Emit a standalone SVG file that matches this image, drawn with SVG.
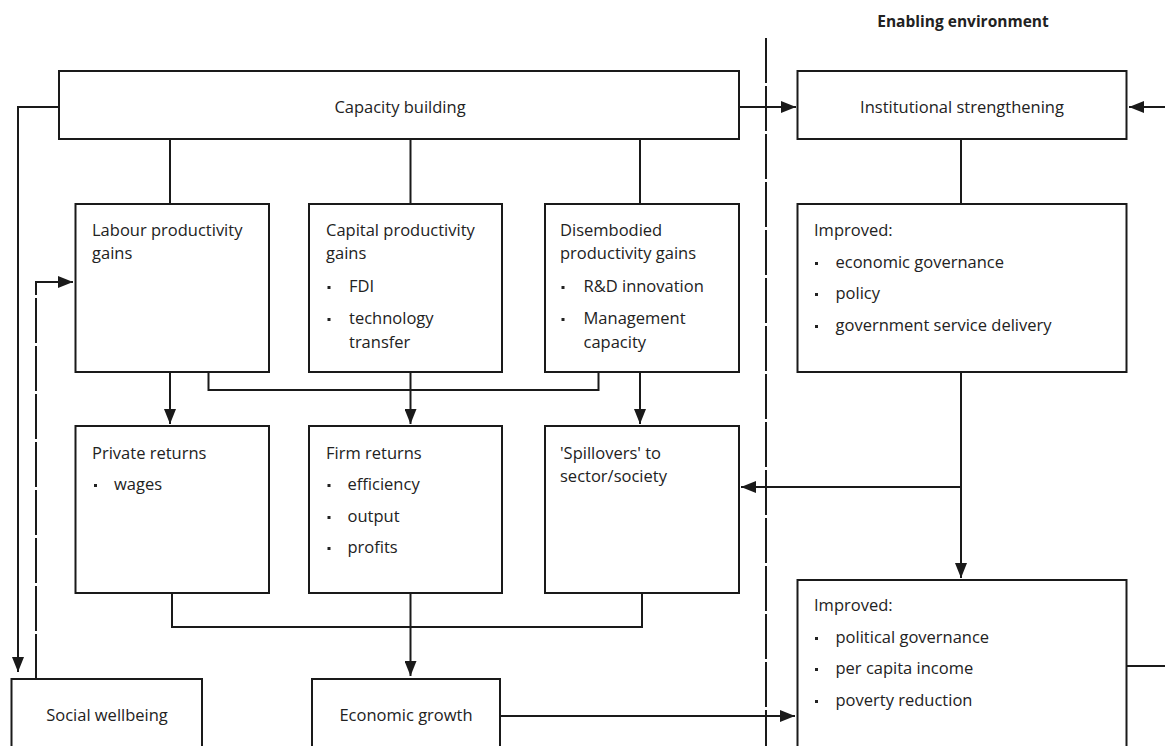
<svg xmlns="http://www.w3.org/2000/svg" width="1165" height="746" viewBox="0 0 1165 746">
<style>
.box{fill:#fff;stroke:#1a1a1a;stroke-width:2}
.ln{fill:none;stroke:#1a1a1a;stroke-width:2}
.dash{stroke-dasharray:45 3}
.t{font-family:"Open Sans","Liberation Sans",sans-serif;font-size:16.5px;fill:#222}
.c{text-anchor:middle}
.h{font-weight:bold;font-size:15.5px}
.b{fill:#222}
</style>
<defs>
<marker id="ar" markerWidth="15" markerHeight="12" refX="15" refY="6" orient="auto" markerUnits="userSpaceOnUse">
<path d="M0,0 L15,6 L0,12 z" fill="#1a1a1a"/>
</marker>
</defs>
<rect width="1165" height="746" fill="#fff"/>
<text class="t h c" x="963" y="27">Enabling environment</text>
<g id="connectors">
<path class="ln dash" d="M766,38 V746"/>
<path class="ln" d="M59,107 H18 V672" marker-end="url(#ar)"/>
<path class="ln dash" d="M36,679 V282 H73" marker-end="url(#ar)"/>
<path class="ln" d="M739,107 H796" marker-end="url(#ar)"/>
<path class="ln" d="M1165,107 H1129" marker-end="url(#ar)"/>
<path class="ln" d="M170,139 V204 M410.5,139 V204 M640,139 V204 M961,139 V204"/>
<path class="ln" d="M170,372 V424" marker-end="url(#ar)"/>
<path class="ln" d="M410.5,372 V424" marker-end="url(#ar)"/>
<path class="ln" d="M640,372 V424" marker-end="url(#ar)"/>
<path class="ln" d="M208.5,372 V390 H598.5 V372"/>
<path class="ln" d="M961,372 V578" marker-end="url(#ar)"/>
<path class="ln" d="M961,487 H741" marker-end="url(#ar)"/>
<path class="ln" d="M172,593 V627 H642 V593"/>
<path class="ln" d="M410.5,593 V676" marker-end="url(#ar)"/>
<path class="ln" d="M500,716 H795" marker-end="url(#ar)"/>
<path class="ln" d="M1126.5,666 H1165"/>
</g>
<g id="capacity">
<rect class="box" x="59" y="71" width="680" height="68"/>
<text class="t c" x="400" y="113">Capacity building</text>
</g>
<g id="institutional">
<rect class="box" x="797.5" y="71" width="329" height="68"/>
<text class="t c" x="962" y="113">Institutional strengthening</text>
</g>
<g id="labour">
<rect class="box" x="75.5" y="204" width="193.5" height="168"/>
<text class="t" x="92" y="236">Labour productivity</text>
<text class="t" x="92" y="259">gains</text>
</g>
<g id="capital">
<rect class="box" x="309" y="204" width="193" height="168"/>
<text class="t" x="326" y="236">Capital productivity</text>
<text class="t" x="326" y="259">gains</text>
<rect class="b" x="327.5" y="286" width="3" height="3"/>
<text class="t" x="349" y="292">FDI</text>
<rect class="b" x="327.5" y="318" width="3" height="3"/>
<text class="t" x="349" y="324">technology</text>
<text class="t" x="349" y="348">transfer</text>
</g>
<g id="disembodied">
<rect class="box" x="545" y="204" width="194" height="168"/>
<text class="t" x="560" y="236">Disembodied</text>
<text class="t" x="560" y="259">productivity gains</text>
<rect class="b" x="561.5" y="286" width="3" height="3"/>
<text class="t" x="583.5" y="292">R&amp;D innovation</text>
<rect class="b" x="561.5" y="318" width="3" height="3"/>
<text class="t" x="583.5" y="324">Management</text>
<text class="t" x="583.5" y="348">capacity</text>
</g>
<g id="improved1">
<rect class="box" x="797.5" y="204" width="329" height="168"/>
<text class="t" x="814" y="236">Improved:</text>
<rect class="b" x="815" y="262" width="3" height="3"/>
<text class="t" x="835.5" y="268">economic governance</text>
<rect class="b" x="815" y="293" width="3" height="3"/>
<text class="t" x="835.5" y="299">policy</text>
<rect class="b" x="815" y="325" width="3" height="3"/>
<text class="t" x="835.5" y="331">government service delivery</text>
</g>
<g id="private">
<rect class="box" x="75.5" y="426" width="193.5" height="167"/>
<text class="t" x="92" y="459">Private returns</text>
<rect class="b" x="94" y="484" width="3" height="3"/>
<text class="t" x="114" y="490">wages</text>
</g>
<g id="firm">
<rect class="box" x="309" y="426" width="193" height="167"/>
<text class="t" x="326" y="459">Firm returns</text>
<rect class="b" x="327.5" y="484" width="3" height="3"/>
<text class="t" x="347.5" y="490">efficiency</text>
<rect class="b" x="327.5" y="516" width="3" height="3"/>
<text class="t" x="347.5" y="522">output</text>
<rect class="b" x="327.5" y="547" width="3" height="3"/>
<text class="t" x="347.5" y="553">profits</text>
</g>
<g id="spillovers">
<rect class="box" x="545" y="426" width="194" height="167"/>
<text class="t" x="560" y="459">'Spillovers' to</text>
<text class="t" x="560" y="482">sector/society</text>
</g>
<g id="improved2">
<rect class="box" x="797.5" y="580" width="329" height="180"/>
<text class="t" x="814" y="611">Improved:</text>
<rect class="b" x="815" y="637" width="3" height="3"/>
<text class="t" x="835.5" y="643">political governance</text>
<rect class="b" x="815" y="668" width="3" height="3"/>
<text class="t" x="835.5" y="674">per capita income</text>
<rect class="b" x="815" y="700" width="3" height="3"/>
<text class="t" x="835.5" y="706">poverty reduction</text>
</g>
<g id="social">
<rect class="box" x="11.5" y="679" width="190.5" height="80"/>
<text class="t c" x="107" y="721">Social wellbeing</text>
</g>
<g id="economic">
<rect class="box" x="312" y="679" width="188" height="80"/>
<text class="t c" x="406" y="721">Economic growth</text>
</g>
</svg>
